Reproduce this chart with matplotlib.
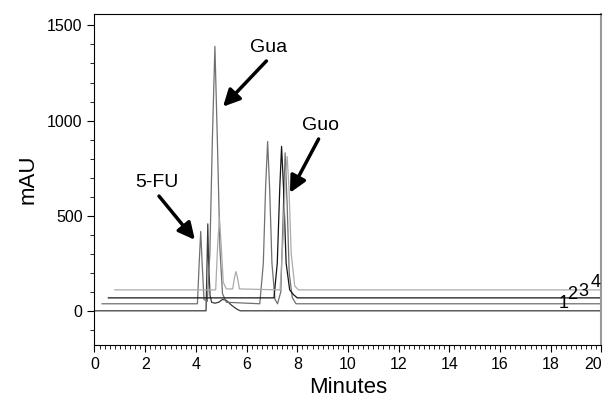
import matplotlib
matplotlib.use("Agg")
import matplotlib.pyplot as plt
from matplotlib.ticker import MultipleLocator

plt.rcParams["font.family"] = ["Liberation Sans", "DejaVu Sans"]

# chromatogram traces, time (min) and absorbance (mAU), read as vertex lists
t1 = [0.0, 4.40, 4.44, 4.47, 4.50, 4.56, 4.62, 4.75, 4.90, 5.05, 5.20, 5.40, 5.60, 5.75, 20.5]
a1 = [0, 0, 250, 457, 260, 80, 45, 40, 45, 60, 55, 30, 10, 0, 0]

t2 = [0.30, 4.06, 4.13, 4.19, 4.25, 4.32, 4.45, 4.55, 4.65, 4.75, 4.85, 4.95, 5.05, 5.20,
      6.52, 6.66, 6.75, 6.83, 6.91, 7.00, 7.12, 7.22, 7.35, 7.43, 7.52, 7.60, 7.68, 7.80, 7.95, 20.5]
a2 = [37, 37, 250, 417, 240, 60, 50, 300, 900, 1390, 880, 320, 90, 45,
      37, 250, 650, 890, 640, 250, 60, 37, 100, 450, 830, 560, 200, 70, 37, 37]

t3 = [0.55, 7.08, 7.21, 7.31, 7.38, 7.46, 7.56, 7.70, 7.85, 8.00, 20.5]
a3 = [68, 68, 250, 650, 864, 640, 250, 110, 85, 68, 68]

t4 = [0.80, 4.78, 4.86, 4.93, 5.00, 5.08, 5.20, 5.45, 5.53, 5.58, 5.63, 5.72,
      7.32, 7.45, 7.53, 7.60, 7.67, 7.76, 7.90, 8.05, 20.5]
a4 = [110, 110, 350, 490, 340, 150, 115, 115, 180, 206, 180, 115,
      110, 400, 700, 811, 650, 300, 130, 110, 110]

traces = [(t1, a1), (t2, a2), (t3, a3), (t4, a4)]
trace_colors = ["#3a3a3a", "#707070", "#141414", "#ababab"]
trace_names = ["1", "2", "3", "4"]
name_pos = [(18.5, 40), (18.85, 84), (19.27, 100), (19.75, 150)]

x_ticks = [0, 2, 4, 6, 8, 10, 12, 14, 16, 18, 20]
y_ticks = [0, 500, 1000, 1500]

# peak labels: (text, text position, arrow tip)
peaks = [("5-FU", (2.47, 673), (3.96, 373)),
         ("Gua", (6.87, 1383), (5.07, 1073)),
         ("Guo", (8.9, 973), (7.71, 620))]

fig = plt.figure(figsize=(6.03, 4.05), dpi=100)
ax = fig.add_axes([0.1567, 0.148, 0.8408, 0.8174])

for (t, a), c in zip(traces, trace_colors):
    ax.plot(t, a, color=c, lw=0.9)

for name, (x, y) in zip(trace_names, name_pos):
    ax.text(x, y, name, fontsize=13, ha="center", va="center")

for label, (tx, ty), (hx, hy) in peaks:
    ax.text(tx, ty, label, fontsize=14, ha="center", va="center")
    ax.annotate("", xy=(hx, hy), xytext=(tx + (hx - tx) * 0.05, ty - 70),
                arrowprops=dict(arrowstyle="-|>,head_length=1.0,head_width=0.5",
                                color="black", lw=2.5, shrinkA=0, shrinkB=0))

ax.set_xlim(0, 20)
ax.set_ylim(-180, 1560)
ax.set_xticks(x_ticks)
ax.set_yticks(y_ticks)
ax.xaxis.set_minor_locator(MultipleLocator(0.2))
ax.yaxis.set_minor_locator(MultipleLocator(100))
ax.tick_params(which="major", length=5, width=0.8, labelsize=11.5)
ax.tick_params(which="minor", length=3, width=0.6)

# last tick label sits against the right edge
ax.get_xticklabels()[-1].set_horizontalalignment("right")

ax.set_xlabel("Minutes", fontsize=16, labelpad=4)
ax.set_ylabel("mAU", fontsize=16, labelpad=6)

ax.spines["right"].set_color("#999999")
ax.spines["right"].set_linewidth(1.5)

fig.savefig("out.png", dpi=100)
